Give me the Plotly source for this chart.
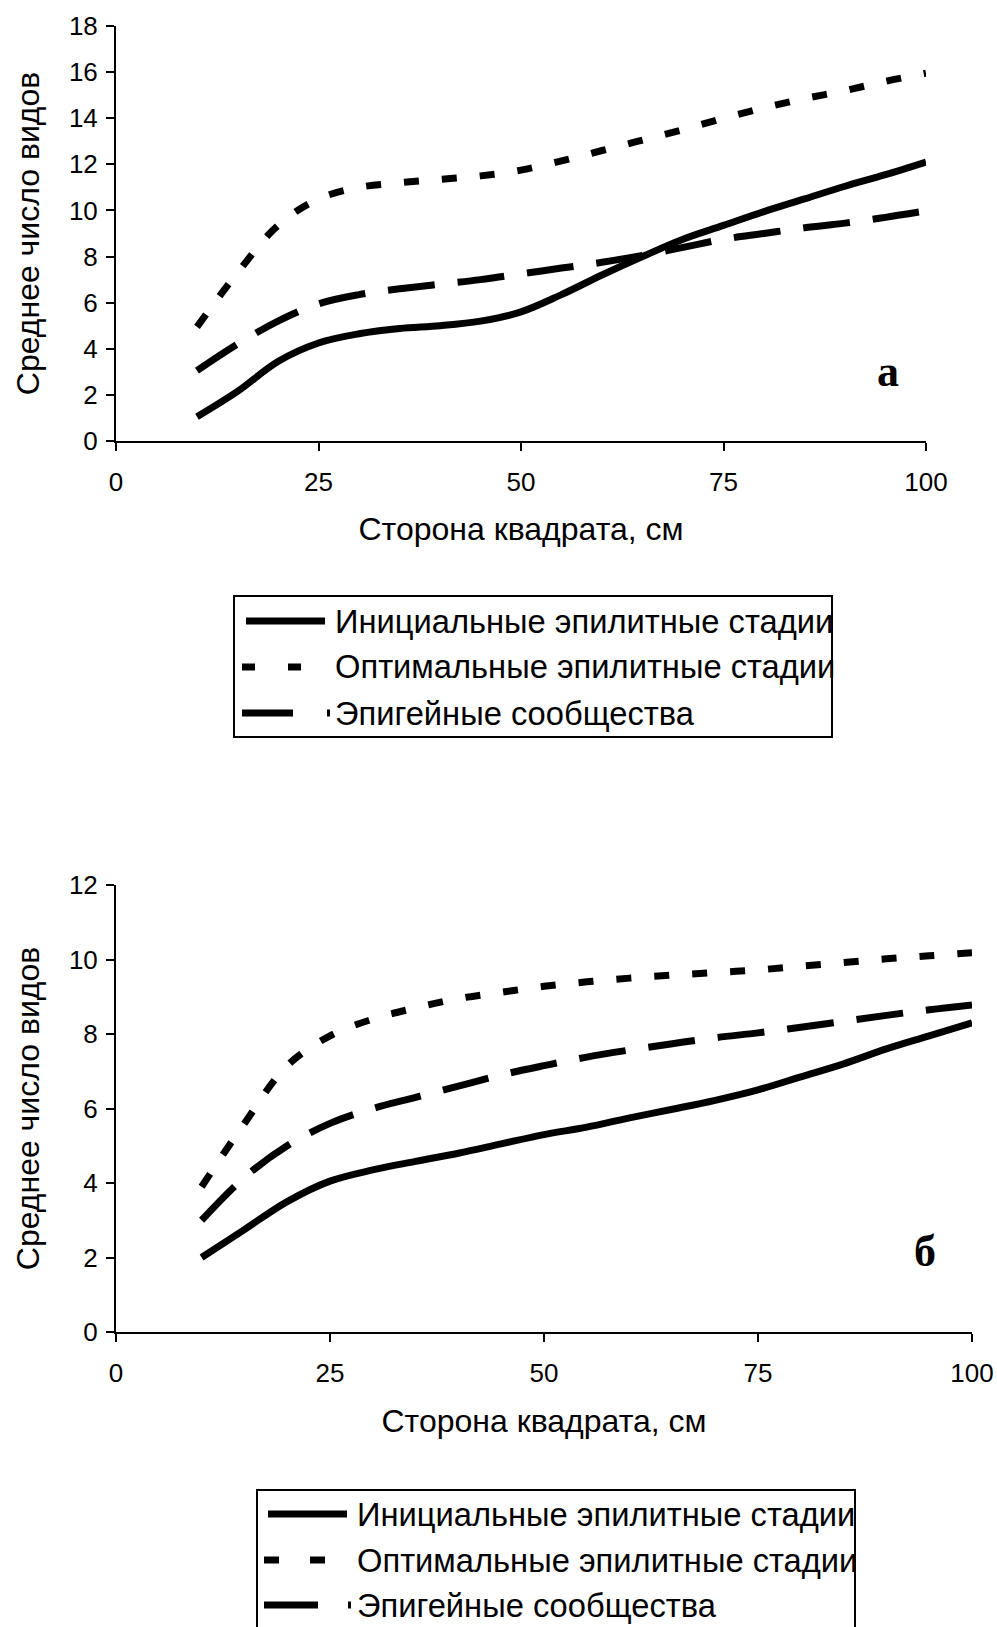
import plotly.graph_objects as go

W, H = 997, 1627

# ---------------- data ----------------
side_cm = [10, 15, 20, 25, 30, 35, 40, 45, 50, 55, 60, 65, 70, 75, 80, 85, 90, 95, 100]

# panel "а"
a_initial = [1.05, 2.15, 3.45, 4.25, 4.65, 4.88, 5.0, 5.2, 5.6, 6.35, 7.2, 8.0, 8.75, 9.35, 9.95, 10.5, 11.05, 11.55, 12.1]
a_optimal = [4.95, 7.3, 9.35, 10.5, 11.0, 11.2, 11.35, 11.5, 11.75, 12.15, 12.6, 13.05, 13.5, 14.0, 14.45, 14.85, 15.2, 15.6, 15.95]
a_epigeic = [3.05, 4.2, 5.2, 5.95, 6.35, 6.6, 6.8, 7.0, 7.25, 7.5, 7.75, 8.05, 8.4, 8.75, 9.0, 9.25, 9.45, 9.7, 9.98]

# panel "б"
b_initial = [2.0, 2.75, 3.5, 4.05, 4.35, 4.58, 4.8, 5.05, 5.3, 5.5, 5.75, 5.98, 6.22, 6.5, 6.85, 7.2, 7.6, 7.95, 8.3]
b_optimal = [3.9, 5.6, 7.15, 7.95, 8.4, 8.7, 8.95, 9.12, 9.28, 9.4, 9.5, 9.58, 9.65, 9.72, 9.82, 9.92, 10.02, 10.1, 10.18]
b_epigeic = [3.0, 4.15, 5.0, 5.6, 6.0, 6.3, 6.6, 6.9, 7.15, 7.38, 7.57, 7.74, 7.9, 8.03, 8.18, 8.34, 8.5, 8.65, 8.78]

x_ticks = [0, 25, 50, 75, 100]
series_names = ["Инициальные эпилитные стадии", "Оптимальные эпилитные стадии", "Эпигейные сообщества"]
x_title = "Сторона квадрата, см"
y_title = "Среднее число видов"
panel_labels = ["а", "б"]

# ---------------- styling ----------------
FONT = "Liberation Sans, Arial, sans-serif"
LW = 7
styles = [
    dict(color="black", width=LW, dash="solid"),
    dict(color="black", width=LW, dash="15px,23px"),
    dict(color="black", width=LW, dash="47px,23px"),
]


def px(x):
    return x / W


def py(y):
    return 1 - y / H


fig = go.Figure()

for (xa, ya), series in [(("x", "y"), (a_initial, a_optimal, a_epigeic)),
                         (("x2", "y2"), (b_initial, b_optimal, b_epigeic))]:
    for name, vals, st in zip(series_names, series, styles):
        fig.add_trace(go.Scatter(
            x=side_cm, y=vals, mode="lines", name=name,
            line=dict(shape="spline", smoothing=1.0, **st),
            xaxis=xa, yaxis=ya, showlegend=False,
        ))

axis_common = dict(
    showline=True, linecolor="black", linewidth=2,
    ticks="outside", ticklen=8, tickwidth=2, tickcolor="black",
    showgrid=False, zeroline=False, automargin=False,
    color="black",
)

fig.update_layout(
    width=W, height=H,
    margin=dict(l=0, r=0, t=0, b=0),
    paper_bgcolor="white", plot_bgcolor="white",
    font=dict(family=FONT, color="black"),
    showlegend=False,
    xaxis=dict(domain=[px(116), px(926)], range=[0, 100], tickvals=x_ticks,
               anchor="y", tickfont=dict(size=26), ticklabelstandoff=9,
               title=dict(text=x_title, font=dict(size=32), standoff=21),
               **axis_common),
    yaxis=dict(domain=[py(441), py(26)], range=[0, 18], dtick=2,
               anchor="x", tickfont=dict(size=26), ticklabelstandoff=3,
               title=dict(text=y_title, font=dict(size=32), standoff=20),
               **axis_common),
    xaxis2=dict(domain=[px(116), px(972)], range=[0, 100], tickvals=x_ticks,
                anchor="y2", tickfont=dict(size=26), ticklabelstandoff=9,
                title=dict(text=x_title, font=dict(size=32), standoff=22),
                **axis_common),
    yaxis2=dict(domain=[py(1332), py(885)], range=[0, 12], dtick=2,
                anchor="x2", tickfont=dict(size=26), ticklabelstandoff=3,
                title=dict(text=y_title, font=dict(size=32), standoff=20),
                **axis_common),
)

# panel letters
fig.add_annotation(x=95.3, y=3.0, xref="x", yref="y", text="<b>%s</b>" % panel_labels[0],
                   showarrow=False, font=dict(family="Liberation Serif, Times New Roman, serif", size=44))
fig.add_annotation(x=94.5, y=2.15, xref="x2", yref="y2", text="<b>%s</b>" % panel_labels[1],
                   showarrow=False, font=dict(family="Liberation Serif, Times New Roman, serif", size=44))

# custom legends (one per panel)
legend_boxes = [
    dict(box=(234, 596, 832, 737), rows=(621, 667, 713), text_x=333,
         samples=[(246, 325, "solid"), (242, 302, "13px,33px"), (242, 331, "51px,34px,3px,50px")]),
    dict(box=(257, 1490, 855, 1650), rows=(1514, 1560, 1605), text_x=355,
         samples=[(268, 347, "solid"), (264, 325, "15px,31px"), (264, 351, "54px,30px,3px,50px")]),
]
for lg in legend_boxes:
    x0, y0, x1, y1 = lg["box"]
    fig.add_shape(type="rect", xref="paper", yref="paper",
                  x0=px(x0), x1=px(x1), y0=py(y1), y1=py(y0),
                  line=dict(color="black", width=2), fillcolor="rgba(0,0,0,0)", layer="above")
    for name, ry, (sx0, sx1, dsh) in zip(series_names, lg["rows"], lg["samples"]):
        fig.add_shape(type="line", xref="paper", yref="paper",
                      x0=px(sx0), x1=px(sx1), y0=py(ry), y1=py(ry),
                      line=dict(color="black", width=LW, dash=dsh))
        fig.add_annotation(x=px(lg["text_x"]), y=py(ry), xref="paper", yref="paper",
                           text=name, showarrow=False, xanchor="left", yanchor="middle",
                           font=dict(size=32.7, family=FONT, color="black"))

fig.write_html("out.html")
